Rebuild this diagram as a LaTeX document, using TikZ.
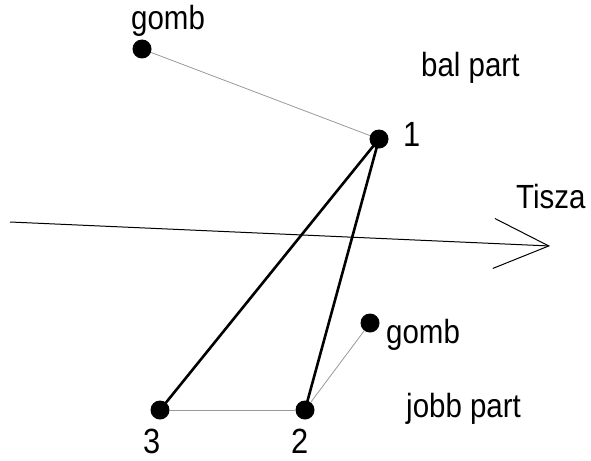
\documentclass[tikz,border=0pt]{standalone}
\usepackage{fontspec}
\setmainfont{Liberation Sans}[FakeStretch=0.88]
\usetikzlibrary{arrows.meta}

\begin{document}
\begin{tikzpicture}[
    x=1pt, y=-1pt,
    pont/.style={circle, fill=black, inner sep=0pt, minimum size=19pt},
    felirat/.style={anchor=base west, inner sep=0pt, font=\fontsize{33.5}{35}\selectfont},
    szam/.style={anchor=base west, inner sep=0pt, font=\fontsize{35}{37}\selectfont},
    vastag/.style={line width=2.6pt, line cap=round},
    vekony/.style={line width=0.8pt, color=gray!80},
    folyo/.style={line width=1pt, -{Straight Barb[length=55pt, width=50pt, line width=1pt]}}
]
\useasboundingbox (0,0) rectangle (591,460);

% pontok
\node[pont] (gombfent) at (142,49) {};
\node[pont] (egy) at (379,139) {};
\node[pont] (ketto) at (305,410) {};
\node[pont] (harom) at (160,410) {};
\node[pont] (gomblent) at (370,323) {};

% Tisza
\coordinate (folyobal) at (10,222);
\coordinate (folyojobb) at (550,246);
\draw[folyo] (folyobal) -- (folyojobb);

% vonalak
\draw[vekony] (gombfent) -- (egy);
\draw[vekony] (harom) -- (ketto);
\draw[vekony] (ketto) -- (gomblent);
\draw[vastag] (egy.center) -- (harom.center);
\draw[vastag] (egy.center) -- (ketto.center);

% feliratok
\node[felirat] (gombfentfel) at (131,30) {gomb};
\node[felirat] (balpart) at (421,77) {bal part};
\node[szam] (egyfel) at (403,146) {1};
\node[felirat] (tisza) at (516,208) {Tisza};
\node[felirat] (gomblentfel) at (386,343) {gomb};
\node[felirat] (jobbpart) at (406,417) {jobb part};
\node[szam] (haromfel) at (143,453) {3};
\node[szam] (kettofel) at (291,453) {2};
\end{tikzpicture}
\end{document}
